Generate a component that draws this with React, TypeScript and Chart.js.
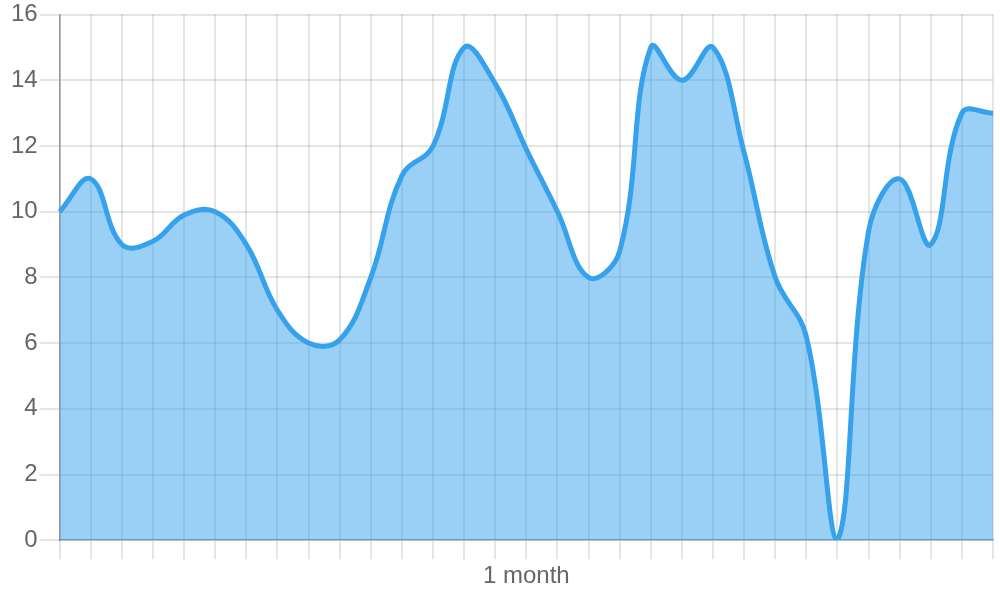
import React, { useEffect, useRef } from "react";
import { Chart, registerables } from "chart.js";

Chart.register(...registerables);

const labels: string[] = Array.from({ length: 31 }, (_, i) => (i === 15 ? "1 month" : ""));

const values: number[] = [
  10, 11, 9, 9.1, 9.9, 10, 9, 7, 6, 6.1,
  8, 11.1, 12, 15, 13.9, 11.9, 10, 8, 8.8, 15,
  14, 15, 11.8, 8, 6.2, 0, 9.4, 11, 9, 13,
  13,
];

const yTicks = { min: 0, max: 16, step: 2 };

export default function App() {
  const ref = useRef<HTMLCanvasElement | null>(null);
  useEffect(() => {
    if (!ref.current) return;
    const chart = new Chart(ref.current, {
      type: "line",
      data: {
        labels,
        datasets: [
          {
            data: values,
            borderColor: "rgb(54, 162, 235)",
            backgroundColor: "rgba(54, 162, 235, 0.5)",
            borderWidth: 5,
            pointRadius: 0,
            tension: 0.4,
            fill: "origin",
          },
        ],
      },
      options: {
        animation: false,
        responsive: true,
        maintainAspectRatio: false,
        layout: { padding: { left: 9, top: 1, right: 7, bottom: 6 } },
        plugins: { legend: { display: false }, tooltip: { enabled: false } },
        scales: {
          x: {
            grid: { color: "rgba(0,0,0,0.1)", lineWidth: 2, tickLength: 19 },
            border: { color: "rgba(0,0,0,0.35)", width: 1.5 },
            ticks: {
              autoSkip: false,
              maxRotation: 0,
              color: "#666",
              font: { size: 24, family: "'Liberation Sans', Arial, sans-serif" },
              padding: 3,
            },
          },
          y: {
            min: yTicks.min,
            max: yTicks.max,
            grid: { color: "rgba(0,0,0,0.1)", lineWidth: 2, tickLength: 20 },
            border: { color: "rgba(0,0,0,0.35)", width: 1.5 },
            ticks: {
              stepSize: yTicks.step,
              color: "#666",
              font: { size: 24, lineHeight: 1.05, family: "'Liberation Sans', Arial, sans-serif" },
              padding: 2,
            },
          },
        },
      },
    });
    return () => chart.destroy();
  }, []);
  return (
    <div style={{ position: "fixed", left: 0, top: 0, width: 1000, height: 600 }}>
      <canvas ref={ref} />
    </div>
  );
}
